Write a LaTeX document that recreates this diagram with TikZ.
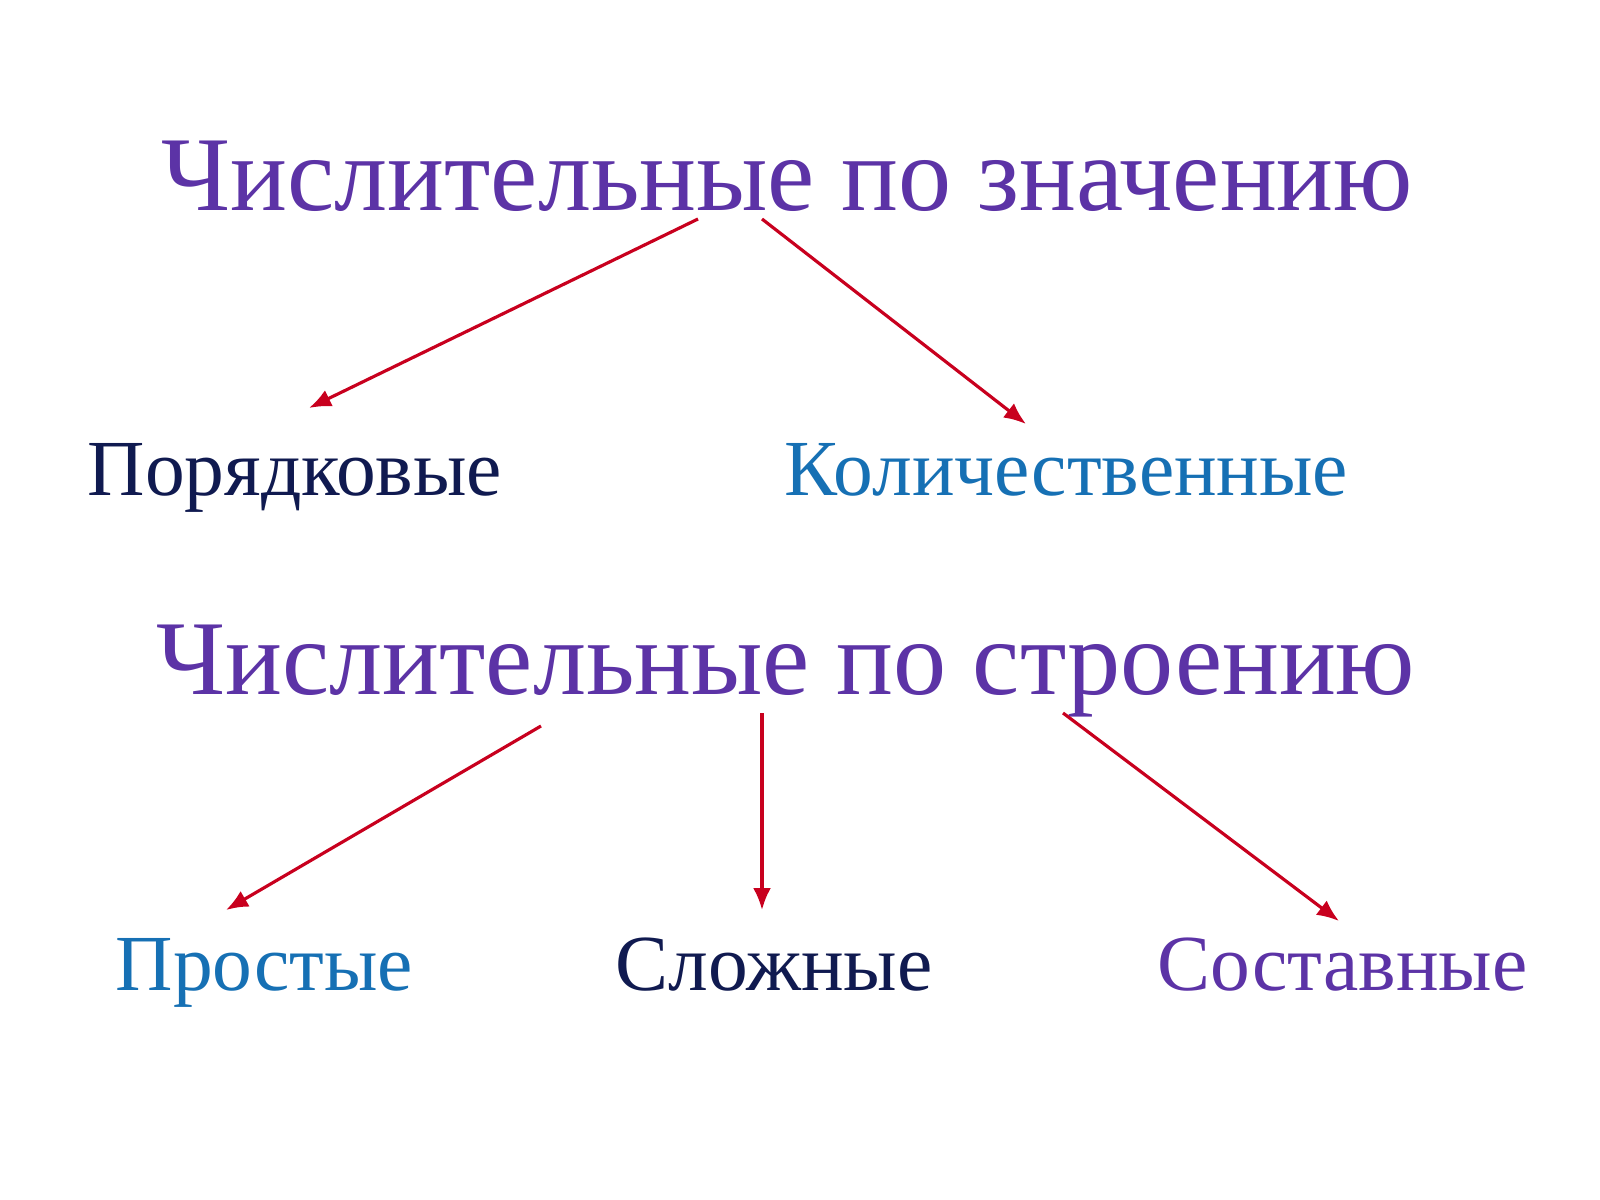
\documentclass[tikz,border=0pt]{standalone}
\usepackage{fontspec}
\setmainfont{Liberation Serif}
\usetikzlibrary{arrows.meta}
\definecolor{titlecol}{HTML}{5C33A6}
\definecolor{navycol}{HTML}{101A50}
\definecolor{bluecol}{HTML}{1670B4}
\definecolor{arrowcol}{HTML}{C8001E}
\tikzset{
  title/.style={anchor=base west, inner sep=0pt, text=titlecol, font=\fontsize{30.2pt}{36pt}\selectfont},
  kind/.style={anchor=base west, inner sep=0pt, font=\fontsize{22.6pt}{28pt}\selectfont},
  conn/.style={draw=arrowcol, line width=0.9pt, -{Latex[length=2.2mm,width=1.8mm]}}
}
\begin{document}
\begin{tikzpicture}[x=0.01cm,y=-0.01cm]
\useasboundingbox (0,0) rectangle (1600,1200);
\node[title] (t1) at (161,210) {Числительные по значению};
\node[title] (t2) at (156,694) {Числительные по строению};
\node[kind, text=navycol] (por) at (87,495) {Порядковые};
\node[kind, text=bluecol] (kol) at (784,495) {Количественные};
\node[kind, text=bluecol] (pro) at (115,990) {Простые};
\node[kind, text=navycol] (slo) at (615,990) {Сложные};
\node[kind, text=titlecol] (sos) at (1157,990) {Составные};
\coordinate (a1s) at (698,219);
\coordinate (a1e) at (309,408);
\coordinate (a2s) at (762,219);
\coordinate (a2e) at (1026,424);
\coordinate (a3s) at (541,726);
\coordinate (a3e) at (226,910);
\coordinate (a4s) at (762,713);
\coordinate (a4e) at (762,910);
\coordinate (a5s) at (1063,713);
\coordinate (a5e) at (1339,921);
\draw[conn] (a1s) -- (a1e);
\draw[conn] (a2s) -- (a2e);
\draw[conn] (a3s) -- (a3e);
\draw[conn] (a4s) -- (a4e);
\draw[conn] (a5s) -- (a5e);
\end{tikzpicture}
\end{document}
